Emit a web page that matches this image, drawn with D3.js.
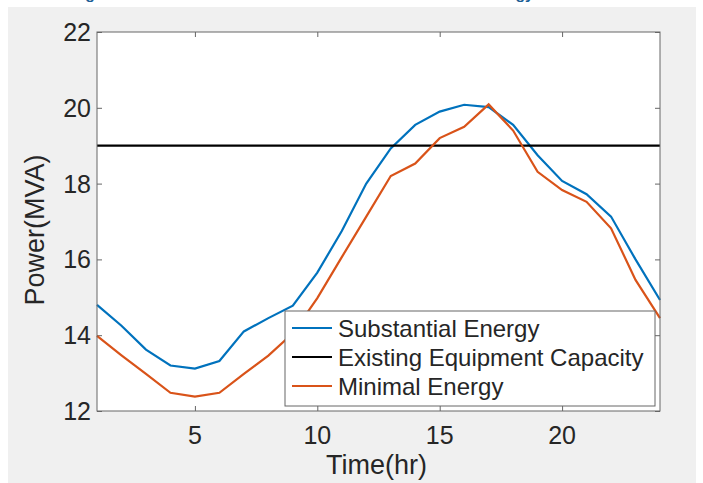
<!DOCTYPE html>
<html>
<head>
<meta charset="utf-8">
<script src="https://cdn.jsdelivr.net/npm/d3@7"></script>
<style>
  body { margin: 0; background: #fff; }
  svg { display: block; font-family: "Liberation Sans", Arial, sans-serif; }
</style>
</head>
<body>
<svg id="chart" width="703" height="483"></svg>
<script>
// hourly load
const hours = [1,2,3,4,5,6,7,8,9,10,11,12,13,14,15,16,17,18,19,20,21,22,23,24];
const substantial = [14.8,14.25,13.62,13.2,13.12,13.32,14.1,14.45,14.78,15.65,16.75,18.0,18.93,19.55,19.9,20.08,20.02,19.55,18.75,18.07,17.72,17.13,16.0,14.93];
const minimal = [13.98,13.47,12.98,12.48,12.38,12.48,12.98,13.46,14.05,14.98,16.06,17.13,18.2,18.53,19.2,19.5,20.09,19.4,18.31,17.83,17.52,16.82,15.46,14.45];
const capacity = 19;
const xTicks = [5,10,15,20];
const yTicks = [12,14,16,18,20,22];
const seriesNames = ["Substantial Energy","Existing Equipment Capacity","Minimal Energy"];
const seriesColors = ["#0072bd","#000000","#d95319"];

const svg = d3.select("#chart");
const margin = {top: 32, right: 43, bottom: 72, left: 97};
const width = +svg.attr("width") - margin.left - margin.right;
const height = +svg.attr("height") - margin.top - margin.bottom;

// figure background; the caption above is cropped in the source, only descenders show
svg.append("rect").attr("x",8).attr("y",7).attr("width",688).attr("height",476).attr("fill","#f0f0f0");
svg.append("text")
  .attr("x",71).attr("y",-1.5)
  .attr("textLength",463).attr("lengthAdjust","spacingAndGlyphs")
  .style("font-size","14px").style("font-weight","bold").attr("fill","#1b5e96")
  .text("Figure 7. Load curve with the substantial and minimal energy");

const x = d3.scaleLinear().domain([1,24]).range([0,width]);
const y = d3.scaleLinear().domain([12,22]).range([height,0]);

const g = svg.append("g").attr("transform","translate(" + margin.left + "," + margin.top + ")");

g.append("rect").attr("width",width).attr("height",height).attr("fill","#fff");

// ticks point inward on all four sides
const tk = 5;
g.append("g").attr("transform","translate(0," + height + ")").call(d3.axisBottom(x).tickValues(xTicks).tickSize(-tk).tickFormat(""));
g.append("g").call(d3.axisTop(x).tickValues(xTicks).tickSize(-tk).tickFormat(""));
g.append("g").call(d3.axisLeft(y).tickValues(yTicks).tickSize(-tk).tickFormat(""));
g.append("g").attr("transform","translate(" + width + ",0)").call(d3.axisRight(y).tickValues(yTicks).tickSize(-tk).tickFormat(""));
g.selectAll(".domain").remove();
g.selectAll(".tick line").attr("stroke","#666");

// tick labels
g.selectAll(".xl").data(xTicks).enter().append("text")
  .attr("x",d => x(d)).attr("y",height + 33)
  .attr("text-anchor","middle").style("font-size","25px").attr("fill","#262626")
  .text(d => d);
g.selectAll(".yl").data(yTicks).enter().append("text")
  .attr("x",-6).attr("y",d => y(d)).attr("dy","0.36em")
  .attr("text-anchor","end").style("font-size","25px").attr("fill","#262626")
  .text(d => d);

const line = d3.line().x((d,i) => x(hours[i])).y(d => y(d));

g.append("path").datum(substantial).attr("d",line)
  .attr("fill","none").attr("stroke",seriesColors[0]).attr("stroke-width",2.2);
g.append("path").datum([capacity,capacity]).attr("d",d3.line().x((d,i) => x(i ? 24 : 1)).y(d => y(d)))
  .attr("fill","none").attr("stroke",seriesColors[1]).attr("stroke-width",2.2);
g.append("path").datum(minimal).attr("d",line)
  .attr("fill","none").attr("stroke",seriesColors[2]).attr("stroke-width",2.2);

// axes box
g.append("rect").attr("width",width).attr("height",height).attr("fill","none").attr("stroke","#666");

// axis titles
svg.append("text")
  .attr("x",margin.left + width/2 - 2).attr("y",474)
  .attr("text-anchor","middle").style("font-size","27px").attr("fill","#262626")
  .text("Time(hr)");
svg.append("text")
  .attr("transform","translate(44," + 230 + ") rotate(-90)")
  .attr("text-anchor","middle").style("font-size","27px").attr("fill","#262626")
  .text("Power(MVA)");

// legend
const lg = svg.append("g").attr("transform","translate(285,311)");
lg.append("rect").attr("width",370).attr("height",95).attr("fill","#fff").attr("stroke","#666");
const row = lg.selectAll(".row").data(seriesNames).enter().append("g")
  .attr("transform",(d,i) => "translate(0," + (17 + i*29) + ")");
row.append("line").attr("x1",7).attr("x2",47)
  .attr("stroke",(d,i) => seriesColors[i]).attr("stroke-width",2.2);
row.append("text").attr("x",53).attr("dy","0.36em")
  .style("font-size","24px").attr("fill","#262626")
  .text(d => d);
</script>
</body>
</html>
